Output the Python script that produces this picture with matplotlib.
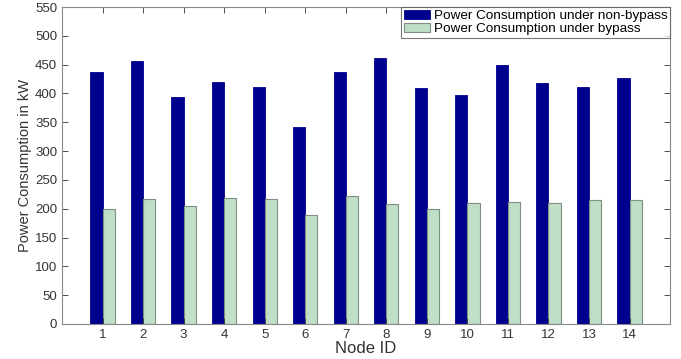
import numpy as np
import matplotlib.pyplot as plt

plt.rcParams['font.family'] = ['Liberation Sans', 'DejaVu Sans']

node_ids = list(range(1, 15))
non_bypass = [438, 457, 393, 420, 412, 342, 438, 461, 409, 397, 450, 418, 411, 427]
bypass = [200, 217, 204, 218, 217, 189, 222, 209, 200, 210, 211, 210, 216, 215]

fig = plt.figure(figsize=(6.81, 3.59), dpi=100)
ax = fig.add_axes([0.091, 0.0975, 0.893, 0.883])

x = np.array(node_ids)
w = 0.3
ax.bar(x - w / 2, non_bypass, w, color='#00008f', edgecolor='#00008f', linewidth=0.6,
       label='Power Consumption under non-bypass')
ax.bar(x + w / 2, bypass, w, color='#bfdfc6', edgecolor='#7f8f84', linewidth=0.8,
       label='Power Consumption under bypass')

ax.set_xlim(0, 15)
ax.set_ylim(0, 550)
ax.set_xticks(node_ids)
ax.set_yticks(range(0, 551, 50))
ax.tick_params(direction='in', top=True, right=True, length=4, labelsize=9.5,
               colors='#333333', width=0.6)
for s in ax.spines.values():
    s.set_color('#888888')
    s.set_linewidth(0.8)

ax.set_xlabel('Node ID', fontsize=12, color='#333333', labelpad=0)
ax.set_ylabel('Power Consumption in kW', fontsize=10.5, color='#333333', labelpad=2)

leg = ax.legend(loc='upper right', fontsize=9.7, frameon=True, fancybox=False,
                borderpad=0.2, labelspacing=0.05, handlelength=1.9, handletextpad=0.3,
                borderaxespad=0.0)
leg.get_frame().set_edgecolor('#555555')
leg.get_frame().set_linewidth(0.8)

fig.savefig('out.png', dpi=100)
